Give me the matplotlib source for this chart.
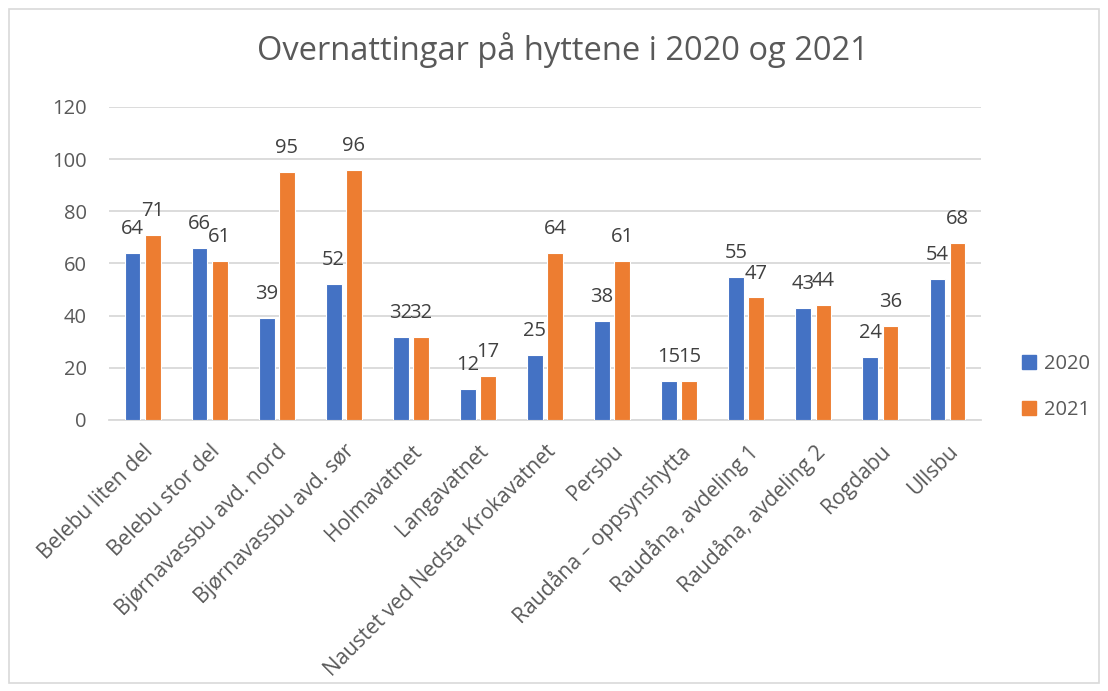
import matplotlib
matplotlib.use('Agg')
import matplotlib.pyplot as plt
import numpy as np
from matplotlib.patches import Rectangle, Patch

plt.rcParams['font.family'] = ['Open Sans', 'DejaVu Sans']

huts = ['Belebu liten del', 'Belebu stor del', 'Bjørnavassbu avd. nord',
        'Bjørnavassbu avd. sør', 'Holmavatnet', 'Langavatnet',
        'Naustet ved Nedsta Krokavatnet', 'Persbu', 'Raudåna – oppsynshytta',
        'Raudåna, avdeling 1', 'Raudåna, avdeling 2', 'Rogdabu', 'Ullsbu']
y2020 = [64, 66, 39, 52, 32, 12, 25, 38, 15, 55, 43, 24, 54]
y2021 = [71, 61, 95, 96, 32, 17, 64, 61, 15, 47, 44, 36, 68]

blue = '#4472C4'
orange = '#ED7D31'
txt = '#595959'

fig = plt.figure(figsize=(11.08, 6.91), dpi=100)
ax = fig.add_axes([0.0984, 0.3922, 0.787, 0.4530])

x = np.arange(len(huts))
w = 0.235
b1 = ax.bar(x - 0.15, y2020, w, color=blue, edgecolor='white', linewidth=0.8, zorder=3)
b2 = ax.bar(x + 0.15, y2021, w, color=orange, edgecolor='white', linewidth=0.8, zorder=3)

# data labels above every bar
for bars, vals in ((b1, y2020), (b2, y2021)):
    for r, v in zip(bars, vals):
        ax.annotate(str(v), (r.get_x() + r.get_width() / 2, v),
                    xytext=(0, 10), textcoords='offset points',
                    ha='center', va='bottom', fontsize=14.5, color='#404040')

ax.set_xlim(-0.5, len(huts) - 0.5)
ax.set_ylim(0, 120)
ax.set_yticks(range(0, 121, 20))
ax.yaxis.grid(True, color='#d9d9d9', linewidth=1.3, zorder=0)
ax.set_axisbelow(True)
for s in ['top', 'right', 'left']:
    ax.spines[s].set_visible(False)
ax.spines['bottom'].set_color('#d9d9d9')
ax.spines['bottom'].set_linewidth(1.3)
ax.tick_params(length=0, labelcolor=txt)
ax.tick_params(axis='y', pad=16, labelsize=14.5)
ax.tick_params(axis='x', pad=15, labelsize=15.2)
ax.set_xticks(x)
ax.set_xticklabels(huts, rotation=45, ha='right', rotation_mode='anchor')

fig.text(0.508, 0.928, 'Overnattingar på hyttene i 2020 og 2021',
         ha='center', va='center', fontsize=23.5, color=txt)

handles = [Patch(color=blue, label='2020'), Patch(color=orange, label='2021')]
fig.legend(handles=handles, loc='center left', bbox_to_anchor=(0.906, 0.44),
           frameon=False, fontsize=14.5, labelcolor=txt, handlelength=0.7,
           handleheight=0.7, handletextpad=0.4, labelspacing=1.3)

fig.patches.append(Rectangle((0.008, 0.012), 0.984, 0.975, transform=fig.transFigure,
                             fill=False, edgecolor='#d9d9d9', linewidth=1.2))

fig.savefig('out.png', dpi=100)
